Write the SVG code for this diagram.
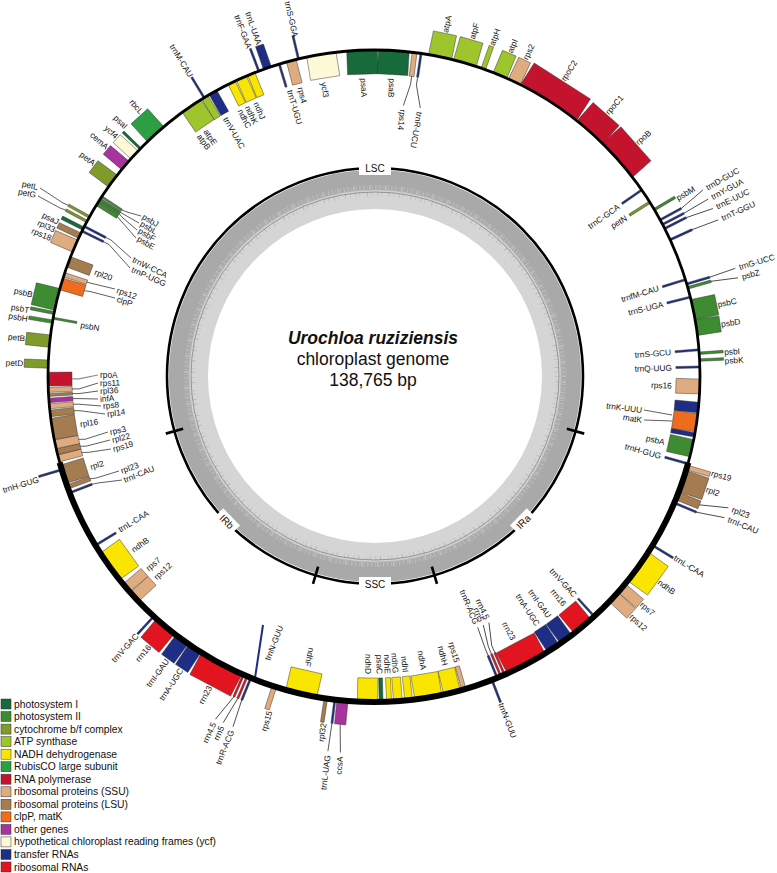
<svg xmlns="http://www.w3.org/2000/svg" width="777" height="873" viewBox="0 0 777 873">
<style>
.l{font-family:"Liberation Sans",Arial,Helvetica,sans-serif;font-size:8.3px;fill:#111;dominant-baseline:central}
.e{text-anchor:end}
.ld{fill:none;stroke:#1a1a1a;stroke-width:.7}
.lg{fill:none;stroke:#8a8a8a;stroke-width:1.2}
#genes rect{stroke:#333;stroke-width:.45}
.tl{stroke:#1e2d86;stroke-width:2}
.p1{fill:#176a39}.p2{fill:#3d8c31}.cy{fill:#7e9b2b}.at{fill:#9fc52c}.nd{fill:#fae500}.rb{fill:#2c9f45}.rp{fill:#c3132d}.ss{fill:#deac7f}.ls{fill:#a57b50}.cl{fill:#ef6b1d}.ot{fill:#a8329e}.yc{fill:#fdf9d6}.tr{fill:#1e2d86}.rr{fill:#e1141f}
.leg text{font-family:"Liberation Sans",Arial,sans-serif;font-size:10.3px;fill:#111;dominant-baseline:central}
.leg rect{stroke:#333;stroke-width:.5}
.ttl{font-family:"Liberation Sans",Arial,sans-serif;font-size:17.5px;text-anchor:middle;fill:#111}
.irl{font-family:"Liberation Sans",Arial,sans-serif;font-size:10px;text-anchor:middle;dominant-baseline:central;fill:#111}
</style>
<rect width="777" height="873" fill="#fff"/>

<g id="gc-plot">
<circle cx="375" cy="376" r="186.5" fill="none" stroke="#d5d5d5" stroke-width="39"/>
<circle cx="375" cy="376" r="196" fill="none" stroke="#a9a9a9" stroke-width="20"/>
<circle cx="375" cy="376" r="188" fill="none" stroke="#bdbdbd" stroke-width="6" stroke-dasharray="1 2 0.6 1.4 2 1 0.8 2.6 1.2 1.8 0.5 1"/>
<circle cx="375" cy="376" r="182" fill="none" stroke="#b9b9b9" stroke-width="4" stroke-dasharray="0.6 5 0.8 3 0.5 7 1 4"/>
<circle cx="375" cy="376" r="184" fill="none" stroke="#6a6a6a" stroke-width="0.6"/>
</g>

<g id="region-ring">
<circle cx="375" cy="376" r="208" fill="none" stroke="#000" stroke-width="2.6"/>
<g stroke="#000" stroke-width="2.6">
<line x1="375" y1="177" x2="375" y2="159" transform="rotate(105.4 375 376)"/>
<line x1="375" y1="177" x2="375" y2="159" transform="rotate(163.4 375 376)"/>
<line x1="375" y1="177" x2="375" y2="159" transform="rotate(196.6 375 376)"/>
<line x1="375" y1="177" x2="375" y2="159" transform="rotate(254.6 375 376)"/>
</g>
<g id="lbl-LSC"><rect x="359" y="161" width="32" height="14" fill="#fff"/><text class="irl" x="375" y="168">LSC</text></g>
<g id="lbl-SSC" transform="rotate(180 375 376)"><rect x="359" y="161" width="32" height="14" fill="#fff"/><text class="irl" x="375" y="168" transform="rotate(180 375 168)">SSC</text></g>
<g id="lbl-IRa" transform="rotate(134.5 375 376)"><rect x="363" y="161" width="24" height="14" fill="#fff"/><text class="irl" x="375" y="168" transform="rotate(180 375 168)">IRa</text></g>
<g id="lbl-IRb" transform="rotate(225.5 375 376)"><rect x="363" y="161" width="24" height="14" fill="#fff"/><text class="irl" x="375" y="168" transform="rotate(180 375 168)">IRb</text></g>
</g>

<g id="genes">
<g id="g-psaA"><rect class="p1" x="358.65" y="50" width="30.7" height="24" transform="rotate(357.9 374 376)"/><text class="l" transform="rotate(358 374 376) translate(374 78) rotate(90)">psaA</text></g>
<g id="g-psaB"><rect class="p1" x="358.65" y="50" width="30.7" height="24" transform="rotate(3.5 374 376)"/><text class="l" transform="rotate(3.5 374 376) translate(374 78) rotate(90)">psaB</text></g>
<g id="g-rps14"><rect class="ss" x="371.55" y="50" width="4.9" height="24" transform="rotate(7.15 374 376)"/><text class="l" transform="rotate(6.2 374 376) translate(374 108) rotate(90)">rps14</text></g>
<g id="g-trnR-UCU"><rect class="tr" x="373" y="50" width="2" height="24" transform="rotate(8.3 374 376)"/><text class="l" transform="rotate(9.8 374 376) translate(374 108) rotate(90)">trnR-UCU</text></g>
<g id="g-atpA"><rect class="at" x="362.2" y="26" width="23.6" height="24" transform="rotate(11.7 374 376)"/><text class="l" transform="rotate(11.7 374 376) translate(374 25) rotate(-90)">atpA</text></g>
<g id="g-atpF"><rect class="at" x="362.2" y="26" width="23.6" height="24" transform="rotate(16.2 374 376)"/><text class="l" transform="rotate(16.2 374 376) translate(374 25) rotate(-90)">atpF</text></g>
<g id="g-atpH"><rect class="at" x="371.65" y="26" width="4.7" height="24" transform="rotate(19.6 374 376)"/><text class="l" transform="rotate(19.6 374 376) translate(374 25) rotate(-90)">atpH</text></g>
<g id="g-atpI"><rect class="at" x="366.6" y="26" width="14.75" height="24" transform="rotate(22.75 374 376)"/><text class="l" transform="rotate(22.75 374 376) translate(374 25) rotate(-90)">atpI</text></g>
<g id="g-rps2"><rect class="ss" x="367.5" y="26" width="13" height="24" transform="rotate(25.5 374 376)"/><text class="l" transform="rotate(25.5 374 376) translate(374 25) rotate(-90)">rps2</text></g>
<g id="g-rpoC2"><rect class="rp" x="340.65" y="26" width="66.7" height="24" transform="rotate(32.55 374 376)"/><text class="l" transform="rotate(32.55 374 376) translate(374 25) rotate(-90)">rpoC2</text></g>
<g id="g-rpoC1"><rect class="rp" x="356.6" y="26" width="34.8" height="24" transform="rotate(41.55 374 376)"/><text class="l" transform="rotate(41.55 374 376) translate(374 25) rotate(-90)">rpoC1</text></g>
<g id="g-rpoB"><rect class="rp" x="351.3" y="26" width="45.4" height="24" transform="rotate(48.45 374 376)"/><text class="l" transform="rotate(48.45 374 376) translate(374 25) rotate(-90)">rpoB</text></g>
<g id="g-trnC-GCA"><rect class="tr" x="373" y="50" width="2" height="24" transform="rotate(55.2 374 376)"/><text class="l e" transform="rotate(55.2 374 376) translate(374 78) rotate(-90)">trnC-GCA</text></g>
<g id="g-petN"><rect class="cy" x="372.75" y="50" width="2.5" height="24" transform="rotate(57.8 374 376)"/><text class="l e" transform="rotate(57.8 374 376) translate(374 78) rotate(-90)">petN</text></g>
<g id="g-psbM"><rect class="p2" x="372.75" y="26" width="2.5" height="24" transform="rotate(59.3 374 376)"/><text class="l" transform="rotate(59.6 374 376) translate(374 25) rotate(-90)">psbM</text></g>
<g id="g-trnD-GUC"><rect class="tr" x="373" y="26" width="2" height="24" transform="rotate(61.4 374 376)"/><text class="l" transform="rotate(60.5 374 376) translate(374 -6) rotate(-90)">trnD-GUC</text></g>
<g id="g-trnY-GUA"><rect class="tr" x="373" y="26" width="2" height="24" transform="rotate(62.3 374 376)"/><text class="l" transform="rotate(62.1 374 376) translate(374 -6) rotate(-90)">trnY-GUA</text></g>
<g id="g-trnE-UUC"><rect class="tr" x="373" y="26" width="2" height="24" transform="rotate(63.1 374 376)"/><text class="l" transform="rotate(63.7 374 376) translate(374 -6) rotate(-90)">trnE-UUC</text></g>
<g id="g-trnT-GGU"><rect class="tr" x="373" y="26" width="2" height="24" transform="rotate(65.3 374 376)"/><text class="l" transform="rotate(65.6 374 376) translate(374 -6) rotate(-90)">trnT-GGU</text></g>
<g id="g-trnfM-CAU"><rect class="tr" x="373" y="50" width="2" height="24" transform="rotate(72.8 374 376)"/><text class="l e" transform="rotate(72.8 374 376) translate(374 78) rotate(-90)">trnfM-CAU</text></g>
<g id="g-trnG-UCC"><rect class="tr" x="373" y="26" width="2" height="24" transform="rotate(73.6 374 376)"/><text class="l" transform="rotate(73.4 374 376) translate(374 -5) rotate(-90)">trnG-UCC</text></g>
<g id="g-psbZ"><rect class="p2" x="372.75" y="26" width="2.5" height="24" transform="rotate(74.3 374 376)"/><text class="l" transform="rotate(74.9 374 376) translate(374 -5) rotate(-90)">psbZ</text></g>
<g id="g-trnS-UGA"><rect class="tr" x="373" y="50" width="2" height="24" transform="rotate(76 374 376)"/><text class="l e" transform="rotate(76 374 376) translate(374 78) rotate(-90)">trnS-UGA</text></g>
<g id="g-psbC"><rect class="p2" x="363.65" y="26" width="20.7" height="24" transform="rotate(78.25 374 376)"/><text class="l" transform="rotate(78.25 374 376) translate(374 25) rotate(-90)">psbC</text></g>
<g id="g-psbD"><rect class="p2" x="366.05" y="26" width="15.9" height="24" transform="rotate(81.45 374 376)"/><text class="l" transform="rotate(81.5 374 376) translate(374 25) rotate(-90)">psbD</text></g>
<g id="g-trnS-GCU"><rect class="tr" x="373" y="50" width="2" height="24" transform="rotate(85.4 374 376)"/><text class="l e" transform="rotate(85.4 374 376) translate(374 78) rotate(-90)">trnS-GCU</text></g>
<g id="g-psbI"><rect class="p2" x="372.75" y="26" width="2.5" height="24" transform="rotate(86 374 376)"/><text class="l" transform="rotate(86.1 374 376) translate(374 25) rotate(-90)">psbI</text></g>
<g id="g-psbK"><rect class="p2" x="372.75" y="26" width="2.5" height="24" transform="rotate(87.2 374 376)"/><text class="l" transform="rotate(87.5 374 376) translate(374 25) rotate(-90)">psbK</text></g>
<g id="g-trnQ-UUG"><rect class="tr" x="373" y="50" width="2" height="24" transform="rotate(88.4 374 376)"/><text class="l e" transform="rotate(88.4 374 376) translate(374 78) rotate(-90)">trnQ-UUG</text></g>
<g id="g-rps16"><rect class="ss" x="366.6" y="50" width="14.8" height="24" transform="rotate(91.85 374 376)"/><text class="l e" transform="rotate(91.85 374 376) translate(374 78) rotate(-90)">rps16</text></g>
<g id="g-trnK-UUU"><rect class="tr" x="368.8" y="50" width="10.4" height="24" transform="rotate(95.55 374 376)"/><rect class="tr" x="371.8" y="50" width="4.4" height="24" transform="rotate(100.4 374 376)"/><text class="l e" transform="translate(642 410) rotate(7.2)">trnK-UUU</text></g>
<g id="g-matK"><rect class="cl" x="364.95" y="50" width="18.1" height="24" transform="rotate(98.25 374 376)"/><text class="l e" transform="translate(642 420) rotate(9.4)">matK</text></g>
<g id="g-psbA"><rect class="p2" x="365.25" y="50" width="17.5" height="24" transform="rotate(102.8 374 376)"/><text class="l e" transform="rotate(102.8 374 376) translate(374 78) rotate(-90)">psbA</text></g>
<g id="g-trnH-GUG-a"><rect class="tr" x="373" y="50" width="2" height="24" transform="rotate(105.6 374 376)"/><text class="l e" transform="rotate(105.6 374 376) translate(374 78) rotate(-90)">trnH-GUG</text></g>
<g id="g-rps19-a"><rect class="ss" x="371.65" y="26" width="4.7" height="24" transform="rotate(106.3 374 376)"/><text class="l" transform="rotate(106 374 376) translate(374 25) rotate(-90)">rps19</text></g>
<g id="g-rpl2-a"><rect class="ls" x="362.8" y="26" width="22.4" height="24" transform="rotate(108.8 374 376)"/><text class="l" transform="rotate(108.8 374 376) translate(374 25) rotate(-90)">rpl2</text></g>
<g id="g-rpl23-a"><rect class="ls" x="369.85" y="26" width="8.3" height="24" transform="rotate(111.6 374 376)"/><text class="l" transform="rotate(110.4 374 376) translate(374 -6) rotate(-90)">rpl23</text></g>
<g id="g-trnI-CAU-a"><rect class="tr" x="373" y="26" width="2" height="24" transform="rotate(112.9 374 376)"/><text class="l" transform="rotate(112 374 376) translate(374 -6) rotate(-90)">trnI-CAU</text></g>
<g id="g-trnL-CAA-a"><rect class="tr" x="373" y="26" width="2" height="24" transform="rotate(121.3 374 376)"/><text class="l" transform="rotate(121.1 374 376) translate(374 25) rotate(-90)">trnL-CAA</text></g>
<g id="g-ndhB-a"><rect class="nd" x="356.3" y="26" width="35.4" height="24" transform="rotate(125.8 374 376)"/><text class="l" transform="rotate(125.8 374 376) translate(374 25) rotate(-90)">ndhB</text></g>
<g id="g-rps7-a"><rect class="ss" x="368.4" y="26" width="11.2" height="24" transform="rotate(130.55 374 376)"/><text class="l" transform="rotate(130.4 374 376) translate(374 25) rotate(-90)">rps7</text></g>
<g id="g-rps12-b"><rect class="ss" x="367.5" y="26" width="13" height="24" transform="rotate(132.7 374 376)"/><text class="l" transform="rotate(133 374 376) translate(374 25) rotate(-90)">rps12</text></g>
<g id="g-trnV-GAC-a"><rect class="tr" x="373" y="50" width="2" height="24" transform="rotate(137.5 374 376)"/><text class="l e" transform="rotate(137.5 374 376) translate(374 78) rotate(-90)">trnV-GAC</text></g>
<g id="g-rrn16-a"><rect class="rr" x="363.05" y="50" width="21.9" height="24" transform="rotate(140.2 374 376)"/><text class="l e" transform="rotate(140.2 374 376) translate(374 78) rotate(-90)">rrn16</text></g>
<g id="g-trnI-GAU-a"><rect class="tr" x="366.9" y="50" width="14.2" height="24" transform="rotate(143.9 374 376)"/><text class="l e" transform="rotate(143.9 374 376) translate(374 78) rotate(-90)">trnI-GAU</text></g>
<g id="g-trnA-UGC-a"><rect class="tr" x="367.15" y="50" width="13.7" height="24" transform="rotate(146.65 374 376)"/><text class="l e" transform="rotate(146.65 374 376) translate(374 78) rotate(-90)">trnA-UGC</text></g>
<g id="g-rrn23-a"><rect class="rr" x="352.65" y="50" width="42.7" height="24" transform="rotate(152.1 374 376)"/><text class="l e" transform="rotate(152.1 374 376) translate(374 78) rotate(-90)">rrn23</text></g>
<g id="g-rrn4-5-a"><rect class="rr" x="373" y="50" width="2" height="24" transform="rotate(156.4 374 376)"/><text class="l e" transform="rotate(155 374 376) translate(374 108) rotate(-90)">rrn4.5</text></g>
<g id="g-rrn5-a"><rect class="rr" x="373" y="50" width="2" height="24" transform="rotate(157.1 374 376)"/><text class="l e" transform="rotate(156.3 374 376) translate(374 108) rotate(-90)">rrn5</text></g>
<g id="g-trnR-ACG-a"><rect class="tr" x="373" y="50" width="2" height="24" transform="rotate(157.8 374 376)"/><text class="l e" transform="rotate(157.6 374 376) translate(374 108) rotate(-90)">trnR-ACG</text></g>
<g id="g-trnN-GUU-a"><rect class="tr" x="373" y="26" width="2" height="24" transform="rotate(158.8 374 376)"/><text class="l" transform="rotate(158.8 374 376) translate(374 25) rotate(-90)">trnN-GUU</text></g>
<g id="g-rps15-a"><rect class="ss" x="371.8" y="50" width="4.4" height="24" transform="rotate(164 374 376)"/><text class="l e" transform="rotate(163.8 374 376) translate(374 78) rotate(-90)">rps15</text></g>
<g id="g-ndhH"><rect class="nd" x="365.5" y="50" width="17" height="24" transform="rotate(166.15 374 376)"/><text class="l e" transform="rotate(166.15 374 376) translate(374 78) rotate(-90)">ndhH</text></g>
<g id="g-ndhA"><rect class="nd" x="360.3" y="50" width="27.4" height="24" transform="rotate(170.4 374 376)"/><text class="l e" transform="rotate(170.4 374 376) translate(374 78) rotate(-90)">ndhA</text></g>
<g id="g-ndhI"><rect class="nd" x="370.15" y="50" width="7.7" height="24" transform="rotate(173.9 374 376)"/><text class="l e" transform="rotate(173.9 374 376) translate(374 78) rotate(-90)">ndhI</text></g>
<g id="g-ndhG"><rect class="nd" x="369.6" y="50" width="8.8" height="24" transform="rotate(175.8 374 376)"/><text class="l e" transform="rotate(175.8 374 376) translate(374 78) rotate(-90)">ndhG</text></g>
<g id="g-ndhE"><rect class="nd" x="371.55" y="50" width="4.9" height="24" transform="rotate(177.35 374 376)"/><text class="l e" transform="rotate(177.35 374 376) translate(374 78) rotate(-90)">ndhE</text></g>
<g id="g-psaC"><rect class="p1" x="372.1" y="50" width="3.8" height="24" transform="rotate(178.75 374 376)"/><text class="l e" transform="rotate(178.9 374 376) translate(374 78) rotate(-90)">psaC</text></g>
<g id="g-ndhD"><rect class="nd" x="363.85" y="50" width="20.3" height="24" transform="rotate(181.15 374 376)"/><text class="l e" transform="rotate(181.15 374 376) translate(374 78) rotate(-90)">ndhD</text></g>
<g id="g-ccsA"><rect class="ot" x="368.4" y="26" width="11.2" height="24" transform="rotate(185.55 374 376)"/><text class="l e" transform="rotate(185.1 374 376) translate(374 -6) rotate(90)">ccsA</text></g>
<g id="g-trnL-UAG"><rect class="tr" x="373" y="26" width="2" height="24" transform="rotate(186.9 374 376)"/><text class="l e" transform="rotate(187 374 376) translate(374 -6) rotate(90)">trnL-UAG</text></g>
<g id="g-rpl32"><rect class="ls" x="372.25" y="26" width="3.5" height="24" transform="rotate(188.5 374 376)"/><text class="l e" transform="rotate(188.3 374 376) translate(374 25) rotate(90)">rpl32</text></g>
<g id="g-ndhF"><rect class="nd" x="358.1" y="50" width="31.8" height="24" transform="rotate(192.9 374 376)"/><text class="l e" transform="rotate(192.9 374 376) translate(374 78) rotate(-90)">ndhF</text></g>
<g id="g-rps15-b"><rect class="ss" x="371.65" y="26" width="4.7" height="24" transform="rotate(197.8 374 376)"/><text class="l e" transform="rotate(197.3 374 376) translate(374 25) rotate(90)">rps15</text></g>
<g id="g-trnN-GUU-b"><line class="tl" x1="255" y1="678" x2="263" y2="625"/><text class="l" transform="translate(267 660) rotate(-68)">trnN-GUU</text></g>
<g id="g-trnR-ACG-b"><rect class="tr" x="373" y="26" width="2" height="24" transform="rotate(202.2 374 376)"/><text class="l e" transform="rotate(201.9 374 376) translate(374 -6) rotate(90)">trnR-ACG</text></g>
<g id="g-rrn5-b"><rect class="rr" x="373" y="26" width="2" height="24" transform="rotate(202.9 374 376)"/><text class="l e" transform="rotate(203.5 374 376) translate(374 -6) rotate(90)">rrn5</text></g>
<g id="g-rrn4-5-b"><rect class="rr" x="373" y="26" width="2" height="24" transform="rotate(203.6 374 376)"/><text class="l e" transform="rotate(204.8 374 376) translate(374 -6) rotate(90)">rrn4.5</text></g>
<g id="g-rrn23-b"><rect class="rr" x="351" y="26" width="46" height="24" transform="rotate(207.9 374 376)"/><text class="l e" transform="rotate(207.9 374 376) translate(374 25) rotate(90)">rrn23</text></g>
<g id="g-trnA-UGC-b"><rect class="tr" x="366.6" y="26" width="14.75" height="24" transform="rotate(213.35 374 376)"/><text class="l e" transform="rotate(213.35 374 376) translate(374 25) rotate(90)">trnA-UGC</text></g>
<g id="g-trnI-GAU-b"><rect class="tr" x="366.35" y="26" width="15.3" height="24" transform="rotate(216.1 374 376)"/><text class="l e" transform="rotate(216.1 374 376) translate(374 25) rotate(90)">trnI-GAU</text></g>
<g id="g-rrn16-b"><rect class="rr" x="362.2" y="26" width="23.6" height="24" transform="rotate(219.8 374 376)"/><text class="l e" transform="rotate(219.8 374 376) translate(374 25) rotate(90)">rrn16</text></g>
<g id="g-trnV-GAC-b"><rect class="tr" x="373" y="26" width="2" height="24" transform="rotate(222.5 374 376)"/><text class="l e" transform="rotate(222.5 374 376) translate(374 25) rotate(90)">trnV-GAC</text></g>
<g id="g-rps12-c"><rect class="ss" x="367.95" y="50" width="12.1" height="24" transform="rotate(227.3 374 376)"/><text class="l" transform="rotate(227.3 374 376) translate(374 78) rotate(90)">rps12</text></g>
<g id="g-rps7-b"><rect class="ss" x="368.8" y="50" width="10.4" height="24" transform="rotate(229.45 374 376)"/><text class="l" transform="rotate(229.6 374 376) translate(374 78) rotate(90)">rps7</text></g>
<g id="g-ndhB-b"><rect class="nd" x="357.55" y="50" width="32.9" height="24" transform="rotate(234.2 374 376)"/><text class="l" transform="rotate(234.2 374 376) translate(374 78) rotate(90)">ndhB</text></g>
<g id="g-trnL-CAA-b"><rect class="tr" x="373" y="50" width="2" height="24" transform="rotate(238.7 374 376)"/><text class="l" transform="rotate(238.9 374 376) translate(374 78) rotate(90)">trnL-CAA</text></g>
<g id="g-trnI-CAU-b"><rect class="tr" x="373" y="50" width="2" height="24" transform="rotate(249 374 376)"/><text class="l" transform="translate(124 480) rotate(-22)">trnI-CAU</text></g>
<g id="g-rpl23-b"><rect class="ls" x="371.8" y="50" width="4.4" height="24" transform="rotate(250.1 374 376)"/><text class="l" transform="translate(121 471) rotate(-20)">rpl23</text></g>
<g id="g-rpl2-b"><rect class="ls" x="364.4" y="50" width="19.2" height="24" transform="rotate(252.45 374 376)"/><text class="l" transform="rotate(252.2 374 376) translate(374 78) rotate(90)">rpl2</text></g>
<g id="g-trnH-GUG-b"><rect class="tr" x="373" y="26" width="2" height="24" transform="rotate(253.3 374 376)"/><text class="l e" transform="rotate(252.9 374 376) translate(374 25) rotate(90)">trnH-GUG</text></g>
<g id="g-rps19-b"><rect class="ss" x="370.45" y="50" width="7.1" height="24" transform="rotate(255.35 374 376)"/><text class="l" transform="translate(113 449) rotate(-15.5)">rps19</text></g>
<g id="g-rpl22"><rect class="ls" x="371" y="50" width="6" height="24" transform="rotate(256.55 374 376)"/><text class="l" transform="translate(112 440) rotate(-14)">rpl22</text></g>
<g id="g-rps3"><rect class="ss" x="369.6" y="50" width="8.8" height="24" transform="rotate(257.9 374 376)"/><text class="l" transform="translate(110 432) rotate(-12)">rps3</text></g>
<g id="g-rpl16"><rect class="ls" x="363.3" y="50" width="21.4" height="24" transform="rotate(260.65 374 376)"/><text class="l" transform="rotate(260.7 374 376) translate(374 78) rotate(90)">rpl16</text></g>
<g id="g-rpl14"><rect class="ls" x="370.7" y="50" width="6.6" height="24" transform="rotate(263.4 374 376)"/><text class="l" transform="translate(107 414) rotate(-8)">rpl14</text></g>
<g id="g-rps8"><rect class="ss" x="371.55" y="50" width="4.9" height="24" transform="rotate(264.65 374 376)"/><text class="l" transform="translate(103 406) rotate(-6)">rps8</text></g>
<g id="g-infA"><rect class="ot" x="371.8" y="50" width="4.4" height="24" transform="rotate(265.7 374 376)"/><text class="l" transform="translate(100 399) rotate(-5)">infA</text></g>
<g id="g-rpl36"><rect class="ls" x="372.65" y="50" width="2.7" height="24" transform="rotate(266.65 374 376)"/><text class="l" transform="translate(100 391) rotate(-3)">rpl36</text></g>
<g id="g-rps11"><rect class="ss" x="371.55" y="50" width="4.9" height="24" transform="rotate(267.55 374 376)"/><text class="l" transform="translate(100 383) rotate(-1.5)">rps11</text></g>
<g id="g-rpoA"><rect class="rp" x="367.15" y="50" width="13.7" height="24" transform="rotate(269.45 374 376)"/><text class="l" transform="translate(100 375)">rpoA</text></g>
<g id="g-petD"><rect class="cy" x="369.85" y="26" width="8.3" height="24" transform="rotate(272.1 374 376)"/><text class="l e" transform="rotate(272.1 374 376) translate(374 25) rotate(90)">petD</text></g>
<g id="g-petB"><rect class="cy" x="367.8" y="26" width="12.4" height="24" transform="rotate(276.15 374 376)"/><text class="l e" transform="rotate(276.15 374 376) translate(374 25) rotate(90)">petB</text></g>
<g id="g-psbH"><rect class="p2" x="372.25" y="26" width="3.5" height="24" transform="rotate(279.6 374 376)"/><text class="l e" transform="rotate(279.4 374 376) translate(374 25) rotate(90)">psbH</text></g>
<g id="g-psbN"><rect class="p2" x="373" y="50" width="2" height="24" transform="rotate(280.2 374 376)"/><text class="l" transform="rotate(279.9 374 376) translate(374 78) rotate(90)">psbN</text></g>
<g id="g-psbT"><rect class="p2" x="372.5" y="26" width="3" height="24" transform="rotate(281.15 374 376)"/><text class="l e" transform="rotate(280.8 374 376) translate(374 25) rotate(90)">psbT</text></g>
<g id="g-psbB"><rect class="p2" x="362.8" y="26" width="22.4" height="24" transform="rotate(283.6 374 376)"/><text class="l e" transform="rotate(283.4 374 376) translate(374 25) rotate(90)">psbB</text></g>
<g id="g-clpP"><rect class="cl" x="368" y="50" width="12" height="24" transform="rotate(286.4 374 376)"/><text class="l" transform="translate(117 299) rotate(16.7)">clpP</text></g>
<g id="g-rps12-a"><rect class="ss" x="371.8" y="50" width="4.4" height="24" transform="rotate(288.1 374 376)"/><text class="l" transform="translate(117 290) rotate(18.5)">rps12</text></g>
<g id="g-rpl20"><rect class="ls" x="368.5" y="50" width="11" height="24" transform="rotate(290.5 374 376)"/><text class="l" transform="rotate(290.5 374 376) translate(374 78) rotate(90)">rpl20</text></g>
<g id="g-rps18"><rect class="ss" x="367.5" y="26" width="13" height="24" transform="rotate(293.5 374 376)"/><text class="l e" transform="rotate(293.1 374 376) translate(374 25) rotate(90)">rps18</text></g>
<g id="g-rpl33"><rect class="ls" x="371.05" y="26" width="5.9" height="24" transform="rotate(295.5 374 376)"/><text class="l e" transform="rotate(294.6 374 376) translate(374 25) rotate(90)">rpl33</text></g>
<g id="g-psaJ"><rect class="p1" x="372.25" y="26" width="3.5" height="24" transform="rotate(296.9 374 376)"/><text class="l e" transform="rotate(296 374 376) translate(374 25) rotate(90)">psaJ</text></g>
<g id="g-trnP-UGG"><rect class="tr" x="373" y="50" width="2" height="24" transform="rotate(296.4 374 376)"/><text class="l" transform="translate(132 269) rotate(24)">trnP-UGG</text></g>
<g id="g-trnW-CCA"><rect class="tr" x="373" y="50" width="2" height="24" transform="rotate(297.3 374 376)"/><text class="l" transform="translate(133 259) rotate(26)">trnW-CCA</text></g>
<g id="g-petG"><rect class="cy" x="372.75" y="26" width="2.5" height="24" transform="rotate(298.3 374 376)"/><text class="l e" transform="translate(36 195) rotate(12)">petG</text></g>
<g id="g-petL"><rect class="cy" x="372.75" y="26" width="2.5" height="24" transform="rotate(299.2 374 376)"/><text class="l e" transform="translate(38 187) rotate(12)">petL</text></g>
<g id="g-psbE"><rect class="p2" x="372.1" y="50" width="3.8" height="24" transform="rotate(301.85 374 376)"/><text class="l" transform="translate(138 238) rotate(30)">psbE</text></g>
<g id="g-psbF"><rect class="p2" x="373" y="50" width="2" height="24" transform="rotate(302.45 374 376)"/><text class="l" transform="translate(139 230) rotate(30)">psbF</text></g>
<g id="g-psbL"><rect class="p2" x="373" y="50" width="2" height="24" transform="rotate(302.85 374 376)"/><text class="l" transform="translate(141 223) rotate(30)">psbL</text></g>
<g id="g-psbJ"><rect class="p2" x="373" y="50" width="2" height="24" transform="rotate(303.35 374 376)"/><text class="l" transform="translate(143 216) rotate(30)">psbJ</text></g>
<g id="g-petA"><rect class="cy" x="366.6" y="26" width="14.75" height="24" transform="rotate(306.75 374 376)"/><text class="l e" transform="rotate(307.2 374 376) translate(374 25) rotate(90)">petA</text></g>
<g id="g-cemA"><rect class="ot" x="368.4" y="26" width="11.2" height="24" transform="rotate(310.25 374 376)"/><text class="l e" transform="rotate(310.6 374 376) translate(374 25) rotate(90)">cemA</text></g>
<g id="g-ycf4"><rect class="yc" x="368.7" y="26" width="10.6" height="24" transform="rotate(312.7 374 376)"/><text class="l e" transform="rotate(312.9 374 376) translate(374 25) rotate(90)">ycf4</text></g>
<g id="g-psaI"><rect class="p1" x="372.75" y="26" width="2.5" height="24" transform="rotate(314.2 374 376)"/><text class="l e" transform="rotate(315.1 374 376) translate(374 25) rotate(90)">psaI</text></g>
<g id="g-rbcL"><rect class="rb" x="362.8" y="26" width="22.4" height="24" transform="rotate(317.9 374 376)"/><text class="l e" transform="rotate(318.6 374 376) translate(374 25) rotate(90)">rbcL</text></g>
<g id="g-atpB"><rect class="at" x="362.75" y="50" width="22.5" height="24" transform="rotate(325.95 374 376)"/><text class="l" transform="rotate(324 374 376) translate(374 78) rotate(90)">atpB</text></g>
<g id="g-atpE"><rect class="at" x="370.45" y="50" width="7.1" height="24" transform="rotate(328.75 374 376)"/><text class="l" transform="rotate(325.6 374 376) translate(374 78) rotate(90)">atpE</text></g>
<g id="g-trnM-CAU"><rect class="tr" x="373" y="26" width="2" height="24" transform="rotate(328.6 374 376)"/><text class="l e" transform="rotate(328.6 374 376) translate(374 25) rotate(90)">trnM-CAU</text></g>
<g id="g-trnV-UAC"><rect class="tr" x="369.6" y="50" width="8.8" height="24" transform="rotate(330.4 374 376)"/><text class="l" transform="rotate(330.1 374 376) translate(374 78) rotate(90)">trnV-UAC</text></g>
<g id="g-ndhC"><rect class="nd" x="370.15" y="50" width="7.7" height="24" transform="rotate(334.1 374 376)"/><text class="l" transform="rotate(333.3 374 376) translate(374 78) rotate(90)">ndhC</text></g>
<g id="g-ndhK"><rect class="nd" x="368.5" y="50" width="11" height="24" transform="rotate(336 374 376)"/><text class="l" transform="rotate(334.9 374 376) translate(374 78) rotate(90)">ndhK</text></g>
<g id="g-ndhJ"><rect class="nd" x="370.15" y="50" width="7.7" height="24" transform="rotate(337.9 374 376)"/><text class="l" transform="rotate(336.7 374 376) translate(374 78) rotate(90)">ndhJ</text></g>
<g id="g-trnF-GAA"><rect class="tr" x="373" y="26" width="2" height="24" transform="rotate(339.3 374 376)"/><text class="l e" transform="rotate(339.2 374 376) translate(374 25) rotate(90)">trnF-GAA</text></g>
<g id="g-trnL-UAA"><rect class="tr" x="369.85" y="26" width="8.3" height="24" transform="rotate(340.9 374 376)"/><text class="l e" transform="rotate(340.9 374 376) translate(374 25) rotate(90)">trnL-UAA</text></g>
<g id="g-trnT-UGU"><rect class="tr" x="373" y="50" width="2" height="24" transform="rotate(343.1 374 376)"/><text class="l" transform="rotate(343.6 374 376) translate(374 78) rotate(90)">trnT-UGU</text></g>
<g id="g-rps4"><rect class="ss" x="369.05" y="50" width="9.9" height="24" transform="rotate(345.3 374 376)"/><text class="l" transform="rotate(345.7 374 376) translate(374 78) rotate(90)">rps4</text></g>
<g id="g-trnS-GGA"><rect class="tr" x="373" y="26" width="2" height="24" transform="rotate(346.6 374 376)"/><text class="l e" transform="rotate(347 374 376) translate(374 28) rotate(90)">trnS-GGA</text></g>
<g id="g-ycf3"><rect class="yc" x="359.2" y="50" width="29.6" height="24" transform="rotate(350.7 374 376)"/><text class="l" transform="rotate(350.3 374 376) translate(374 78) rotate(90)">ycf3</text></g>
</g>

<g id="backbone">
<circle cx="374" cy="376" r="326" fill="none" stroke="#000" stroke-width="2.8"/>
<path d="M688.3,462.6 A326,326 0 0 1 59.7,462.6" fill="none" stroke="#000" stroke-width="6"/>
</g>

<g id="connectors">
<polyline class="ld" points="374,74 374,82 369.5,104" transform="rotate(7.15 374 376)"/>
<polyline class="ld" points="374,74 374,82 381.1,104" transform="rotate(8.3 374 376)"/>
<polyline class="ld" points="374,26 368.1,-2" transform="rotate(61.4 374 376)"/>
<polyline class="ld" points="374,26 372.7,-2" transform="rotate(62.3 374 376)"/>
<polyline class="ld" points="374,26 378,-2" transform="rotate(63.1 374 376)"/>
<polyline class="ld" points="374,26 376,-2" transform="rotate(65.3 374 376)"/>
<polyline class="ld" points="374,26 372.7,-1" transform="rotate(73.6 374 376)"/>
<polyline class="ld" points="374,26 378,-1" transform="rotate(74.3 374 376)"/>
<polyline class="ld" points="644,410 672,415"/>
<polyline class="ld" points="644,420 672,421"/>
<polyline class="ld" points="374,26 366.1,-2" transform="rotate(111.6 374 376)"/>
<polyline class="ld" points="374,26 368.1,-2" transform="rotate(112.9 374 376)"/>
<polyline class="ld" points="374,74 374,82 367.4,104" transform="rotate(156.4 374 376)"/>
<polyline class="ld" points="374,74 374,82 370.2,104" transform="rotate(157.1 374 376)"/>
<polyline class="ld" points="374,74 374,82 373,104" transform="rotate(157.8 374 376)"/>
<polyline class="ld" points="374,26 371,-2" transform="rotate(185.55 374 376)"/>
<polyline class="ld" points="374,26 374.7,-2" transform="rotate(186.9 374 376)"/>
<polyline class="ld" points="374,26 372,-2" transform="rotate(202.2 374 376)"/>
<polyline class="ld" points="374,26 378,-2" transform="rotate(202.9 374 376)"/>
<polyline class="ld" points="374,26 381.9,-2" transform="rotate(203.6 374 376)"/>
<polyline class="ld" points="92.1,484.2 98,483 122,480"/>
<polyline class="ld" points="90,478.8 96,478 119,471"/>
<polyline class="ld" points="81.8,452.4 88,452.4 111,449"/>
<polyline class="ld" points="80.3,446.2 86,446.2 110,440"/>
<polyline class="ld" points="78.7,439.3 85,439.3 108,432"/>
<polyline class="ld" points="74,410.7 80,410.7 105,414"/>
<polyline class="ld" points="73.3,404.2 79,404.2 101,406"/>
<polyline class="ld" points="72.9,398.6 79,398.6 98,399"/>
<polyline class="ld" points="72.5,393.6 79,393.6 98,391"/>
<polyline class="ld" points="72.3,388.9 79,388.9 98,383"/>
<polyline class="lg" points="72,378.9 79,378.9 98,375"/>
<polyline class="ld" points="84.3,290.7 90,291.5 115,298"/>
<polyline class="ld" points="86.9,282.2 92,283.5 115,289"/>
<polyline class="ld" points="105.7,237.5 111,240 131,258"/>
<polyline class="ld" points="103.5,241.7 109,244.5 130,268"/>
<polyline class="ld" points="68.4,205.3 63,203 40,188"/>
<polyline class="ld" points="65.8,210.1 60,208 38,196"/>
<polyline class="ld" points="121.7,210 127,212 141,216"/>
<polyline class="ld" points="120.2,212.3 125,215 139,223"/>
<polyline class="ld" points="119.1,214 123,218 137,230"/>
<polyline class="ld" points="117.4,216.7 121,221 136,238"/>
</g>

<g id="title">
<text class="ttl" x="373" y="344" font-weight="bold" font-style="italic">Urochloa ruziziensis</text>
<text class="ttl" x="373" y="364.5">chloroplast genome</text>
<text class="ttl" x="373" y="385.5">138,765 bp</text>
</g>

<g id="legend" class="leg">
<rect class="p1" x="1" y="699" width="10" height="10"/><text x="14" y="704">photosystem I</text>
<rect class="p2" x="1" y="711.5" width="10" height="10"/><text x="14" y="716.5">photosystem II</text>
<rect class="cy" x="1" y="724.1" width="10" height="10"/><text x="14" y="729.1">cytochrome b/f complex</text>
<rect class="at" x="1" y="736.6" width="10" height="10"/><text x="14" y="741.6">ATP synthase</text>
<rect class="nd" x="1" y="749.2" width="10" height="10"/><text x="14" y="754.2">NADH dehydrogenase</text>
<rect class="rb" x="1" y="761.7" width="10" height="10"/><text x="14" y="766.7">RubisCO large subunit</text>
<rect class="rp" x="1" y="774.2" width="10" height="10"/><text x="14" y="779.2">RNA polymerase</text>
<rect class="ss" x="1" y="786.8" width="10" height="10"/><text x="14" y="791.8">ribosomal proteins (SSU)</text>
<rect class="ls" x="1" y="799.3" width="10" height="10"/><text x="14" y="804.3">ribosomal proteins (LSU)</text>
<rect class="cl" x="1" y="811.9" width="10" height="10"/><text x="14" y="816.9">clpP, matK</text>
<rect class="ot" x="1" y="824.4" width="10" height="10"/><text x="14" y="829.4">other genes</text>
<rect class="yc" x="1" y="836.9" width="10" height="10"/><text x="14" y="841.9">hypothetical chloroplast reading frames (ycf)</text>
<rect class="tr" x="1" y="849.5" width="10" height="10"/><text x="14" y="854.5">transfer RNAs</text>
<rect class="rr" x="1" y="862" width="10" height="10"/><text x="14" y="867">ribosomal RNAs</text>
</g>
</svg>
